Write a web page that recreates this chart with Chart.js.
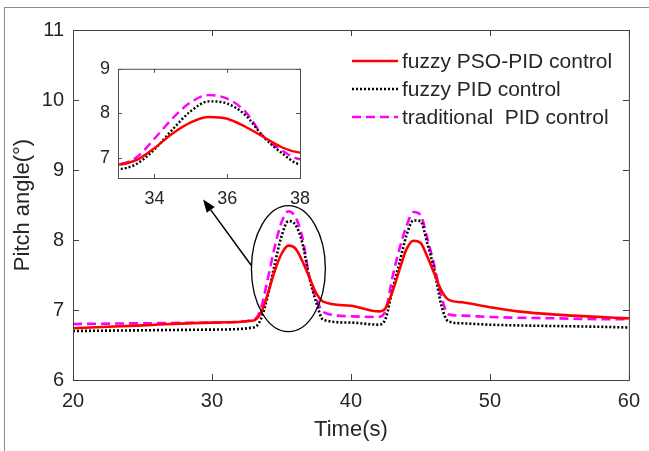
<!DOCTYPE html>
<html>
<head>
<meta charset="utf-8">
<script src="https://cdn.jsdelivr.net/npm/chart.js@4.4.1/dist/chart.umd.min.js"></script>
<style>
  body { margin: 0; background: #fff; }
  #wrap { position: relative; width: 649px; height: 451px; overflow: hidden; }
  #frame { position: absolute; left: 4px; top: 7px; width: 700px; height: 500px;
           border-top: 1px solid #8a8a8a; border-left: 1px solid #8a8a8a; }
  #main { position: absolute; left: 0; top: 0; }
  #inset { position: absolute; left: 80px; top: 50px; }
</style>
</head>
<body>
<div id="wrap">
  <div id="frame"></div>
  <canvas id="main" width="649" height="451"></canvas>
  <canvas id="inset" width="240" height="160"></canvas>
</div>
<script>
// time (s)
const time = [20, 25, 30, 33, 33.5, 34, 34.5, 35, 35.5, 36, 36.5, 37, 37.5, 38, 40, 42,
  42.5, 43, 43.5, 44, 44.5, 45, 45.5, 46, 46.5, 47, 48, 50, 52, 55, 58, 60];
// pitch angle (deg)
const psoPid = [6.74, 6.78, 6.82, 6.85, 6.95, 7.22, 7.55, 7.80, 7.92, 7.88, 7.70, 7.47, 7.24, 7.12, 7.06, 6.98,
  7.03, 7.27, 7.58, 7.87, 7.99, 7.96, 7.76, 7.52, 7.28, 7.15, 7.11, 7.04, 6.98, 6.93, 6.90, 6.88];
const fuzzyPid = [6.70, 6.71, 6.72, 6.75, 6.86, 7.19, 7.64, 8.05, 8.27, 8.22, 7.96, 7.47, 7.11, 6.86, 6.82, 6.79,
  6.88, 7.30, 7.68, 8.07, 8.28, 8.27, 7.95, 7.57, 7.07, 6.84, 6.81, 6.79, 6.78, 6.77, 6.76, 6.75];
const tradPid = [6.80, 6.81, 6.82, 6.86, 7.01, 7.43, 7.89, 8.25, 8.41, 8.33, 8.04, 7.48, 7.17, 6.97, 6.91, 6.90,
  7.00, 7.48, 7.88, 8.20, 8.40, 8.36, 8.02, 7.63, 7.20, 6.94, 6.92, 6.90, 6.89, 6.88, 6.87, 6.87];

const seriesNames = ['fuzzy PSO-PID control', 'fuzzy PID control', 'traditional  PID control'];
const xTicks = [20, 30, 40, 50, 60];
const yTicks = [6, 7, 8, 9, 10, 11];
const insetXTicks = [34, 36, 38];
const insetYTicks = [7, 8, 9];

// zoom ellipse (center + radii, data units) and arrow (from, to)
const zoomEllipse = { x: 35.5, y: 7.59, rx: 2.66, ry: 0.9 };
const arrowFrom = { x: 32.82, y: 7.64 };
const arrowTo = { x: 29.36, y: 8.58 };

const FONT = "'Liberation Sans', Arial, sans-serif";
const TXT = '#262626';

function pts(vals) {
  return time.map((t, i) => ({ x: t, y: vals[i] }));
}

function makeDatasets(w) {
  return [
    { label: seriesNames[0], data: pts(psoPid), borderColor: '#ff0000', borderWidth: w },
    { label: seriesNames[1], data: pts(fuzzyPid), borderColor: '#000000', borderWidth: w, borderDash: [2, 2] },
    { label: seriesNames[2], data: pts(tradPid), borderColor: '#ff00ff', borderWidth: w, borderDash: [9, 5] }
  ].map(d => Object.assign(d, { pointRadius: 0, cubicInterpolationMode: 'monotone', fill: false }));
}

function boxAndTicks(chart, len, color) {
  const { ctx, chartArea: a, scales: { x, y } } = chart;
  ctx.save();
  ctx.strokeStyle = color;
  ctx.lineWidth = 1;
  ctx.setLineDash([]);
  ctx.strokeRect(a.left + 0.5, a.top + 0.5, a.right - a.left, a.bottom - a.top);
  ctx.beginPath();
  x.ticks.forEach(t => {
    const px = Math.round(x.getPixelForValue(t.value)) + 0.5;
    ctx.moveTo(px, a.bottom); ctx.lineTo(px, a.bottom - len);
    ctx.moveTo(px, a.top); ctx.lineTo(px, a.top + len);
  });
  y.ticks.forEach(t => {
    const py = Math.round(y.getPixelForValue(t.value)) + 0.5;
    ctx.moveTo(a.left, py); ctx.lineTo(a.left + len, py);
    ctx.moveTo(a.right, py); ctx.lineTo(a.right - len, py);
  });
  ctx.stroke();
  ctx.restore();
}

const mainDecor = {
  id: 'mainDecor',
  afterDatasetsDraw(chart) {
    const { ctx, scales: { x, y } } = chart;
    ctx.save();
    ctx.strokeStyle = '#000';
    ctx.lineWidth = 1.3;
    // ellipse around the first peak
    const cx = x.getPixelForValue(zoomEllipse.x);
    const cy = y.getPixelForValue(zoomEllipse.y);
    const rx = x.getPixelForValue(zoomEllipse.x + zoomEllipse.rx) - cx;
    const ry = cy - y.getPixelForValue(zoomEllipse.y + zoomEllipse.ry);
    ctx.beginPath();
    ctx.ellipse(cx, cy, rx, ry, 0, 0, Math.PI * 2);
    ctx.stroke();
    // arrow to the inset
    const x0 = x.getPixelForValue(arrowFrom.x), y0 = y.getPixelForValue(arrowFrom.y);
    const x1 = x.getPixelForValue(arrowTo.x), y1 = y.getPixelForValue(arrowTo.y);
    const ang = Math.atan2(y1 - y0, x1 - x0);
    const hl = 13, hw = 5;
    const bx = x1 - hl * Math.cos(ang), by = y1 - hl * Math.sin(ang);
    ctx.lineWidth = 1.5;
    ctx.beginPath();
    ctx.moveTo(x0, y0); ctx.lineTo(bx, by);
    ctx.stroke();
    ctx.fillStyle = '#000';
    ctx.beginPath();
    ctx.moveTo(x1, y1);
    ctx.lineTo(bx + hw * Math.sin(ang), by - hw * Math.cos(ang));
    ctx.lineTo(bx - hw * Math.sin(ang), by + hw * Math.cos(ang));
    ctx.closePath();
    ctx.fill();
    ctx.restore();
  },
  afterDraw(chart) {
    boxAndTicks(chart, 6, '#404040');
    // legend in the upper right corner
    const { ctx } = chart;
    const rows = [61, 89, 117];
    ctx.save();
    chart.data.datasets.forEach((ds, i) => {
      ctx.strokeStyle = ds.borderColor;
      ctx.lineWidth = ds.borderWidth;
      ctx.setLineDash(ds.borderDash || []);
      ctx.beginPath();
      ctx.moveTo(352, rows[i]); ctx.lineTo(398, rows[i]);
      ctx.stroke();
      ctx.fillStyle = TXT;
      ctx.font = '21px ' + FONT;
      ctx.textBaseline = 'middle';
      ctx.fillText(ds.label, 402, rows[i] + 1);
    });
    ctx.restore();
  }
};

new Chart(document.getElementById('main'), {
  type: 'line',
  data: { datasets: makeDatasets(2.6) },
  options: {
    responsive: false, animation: false, devicePixelRatio: 1,
    layout: { padding: { top: 30, right: 16, left: 0, bottom: 0 } },
    plugins: { legend: { display: false }, tooltip: { enabled: false } },
    scales: {
      x: {
        type: 'linear', min: 20, max: 60,
        afterBuildTicks: s => { s.ticks = xTicks.map(v => ({ value: v })); },
        afterFit: s => { s.height = 71; },
        grid: { display: false, drawTicks: false }, border: { display: false },
        ticks: { font: { family: FONT, size: 20 }, color: TXT, padding: 9, maxRotation: 0 },
        title: { display: true, text: 'Time(s)', font: { family: FONT, size: 22 }, color: TXT,
                 padding: { top: 0, bottom: 8 } }
      },
      y: {
        min: 6, max: 11,
        afterBuildTicks: s => { s.ticks = yTicks.map(v => ({ value: v })); },
        afterFit: s => { s.width = 73; },
        grid: { display: false, drawTicks: false }, border: { display: false },
        ticks: { font: { family: FONT, size: 20 }, color: TXT, padding: 9 },
        title: { display: true, text: 'Pitch angle(°)', font: { family: FONT, size: 22 }, color: TXT,
                 padding: { top: 10, bottom: 0 } }
      }
    }
  },
  plugins: [mainDecor]
});

const insetDecor = {
  id: 'insetDecor',
  beforeDraw(chart) {
    const { ctx, chartArea: a } = chart;
    ctx.save();
    ctx.fillStyle = '#fff';
    ctx.fillRect(a.left, a.top, a.right - a.left, a.bottom - a.top);
    ctx.restore();
  },
  afterDraw(chart) {
    boxAndTicks(chart, 4, '#505050');
  }
};

new Chart(document.getElementById('inset'), {
  type: 'line',
  data: { datasets: makeDatasets(2.4) },
  options: {
    responsive: false, animation: false, devicePixelRatio: 1,
    layout: { padding: { top: 14, right: 13, left: 0, bottom: 0 } },
    plugins: { legend: { display: false }, tooltip: { enabled: false } },
    scales: {
      x: {
        type: 'linear', min: 33, max: 38,
        afterBuildTicks: s => { s.ticks = insetXTicks.map(v => ({ value: v })); },
        afterFit: s => { s.height = 32; },
        grid: { display: false, drawTicks: false }, border: { display: false },
        ticks: { font: { family: FONT, size: 18 }, color: TXT, padding: 10, maxRotation: 0 }
      },
      y: {
        min: 6.55, max: 9,
        afterBuildTicks: s => { s.ticks = insetYTicks.map(v => ({ value: v })); },
        afterFit: s => { s.width = 38; },
        grid: { display: false, drawTicks: false }, border: { display: false },
        ticks: { font: { family: FONT, size: 18 }, color: TXT, padding: 8 }
      }
    }
  },
  plugins: [insetDecor]
});
</script>
</body>
</html>
